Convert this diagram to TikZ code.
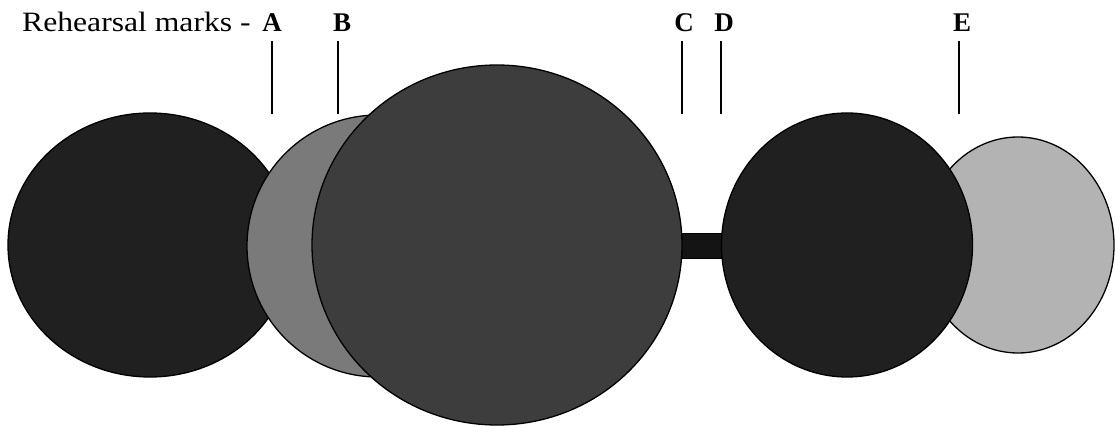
\documentclass[tikz,border=0pt]{standalone}
\usepackage{fontspec}
\setmainfont{Liberation Serif}
\begin{document}
\begin{tikzpicture}[x=1pt,y=-1pt,
  shp/.style={draw=black,line width=1.3pt},
  tick/.style={draw=black,line width=1.4pt},
  lbl/.style={inner sep=0pt,anchor=base,font=\fontsize{27}{29}\selectfont\bfseries}]
\useasboundingbox (0,0) rectangle (1115,427);
\definecolor{cdark}{HTML}{202020}
\definecolor{cmid}{HTML}{7A7A7A}
\definecolor{cbig}{HTML}{3D3D3D}
\definecolor{clight}{HTML}{B3B3B3}
\definecolor{cbar}{HTML}{141414}
% shapes
\draw[shp,fill=cdark] (150,245) ellipse [x radius=142,y radius=132];
\draw[shp,fill=cmid] (378,246) ellipse [x radius=131,y radius=131];
\draw[shp,fill=cbar,line width=0.8pt] (670,233) rectangle (735,258);
\draw[shp,fill=cbig] (497,245) ellipse [x radius=185,y radius=180];
\draw[shp,fill=clight] (1018,245) ellipse [x radius=96,y radius=108];
\draw[shp,fill=cdark] (847,245) ellipse [x radius=125.5,y radius=132];
% text
\node[inner sep=0pt,anchor=base west,font=\fontsize{28}{30}\selectfont] (rm) at (22,32) {\scalebox{1.13}[1]{Rehearsal marks -}};
\node[lbl] (A) at (272,32) {A};
\node[lbl] (B) at (342,32) {B};
\node[lbl] (C) at (684,32) {C};
\node[lbl] (D) at (724,32) {D};
\node[lbl] (E) at (962,32) {E};
\coordinate (ta1) at (272,41); \coordinate (ta2) at (272,114);
\coordinate (tb1) at (338,41); \coordinate (tb2) at (338,114);
\coordinate (tc1) at (682,41); \coordinate (tc2) at (682,114);
\coordinate (td1) at (721,41); \coordinate (td2) at (721,114);
\coordinate (te1) at (959,41); \coordinate (te2) at (959,114);
\draw[tick] (ta1) -- (ta2);
\draw[tick] (tb1) -- (tb2);
\draw[tick] (tc1) -- (tc2);
\draw[tick] (td1) -- (td2);
\draw[tick] (te1) -- (te2);
\end{tikzpicture}
\end{document}
